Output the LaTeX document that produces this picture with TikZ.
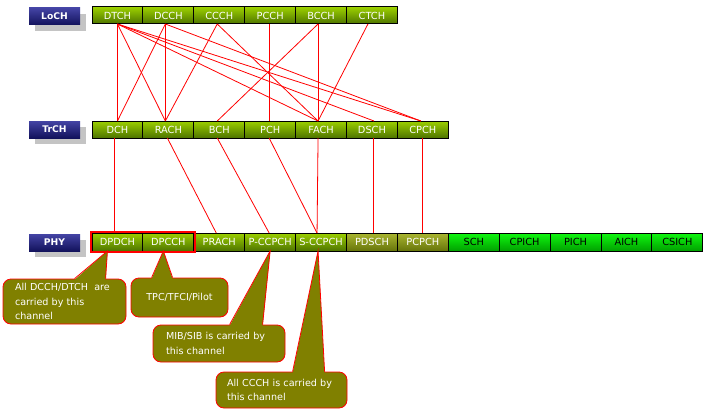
\documentclass[tikz,border=0pt]{standalone}
\usepackage{fontspec}
\setmainfont{DejaVu Sans}
\definecolor{lgTop}{HTML}{9CD000}
\definecolor{lgBot}{HTML}{4E7400}
\definecolor{olTop}{HTML}{AAB630}
\definecolor{olBot}{HTML}{66740A}
\definecolor{grTop}{HTML}{10F810}
\definecolor{grBot}{HTML}{00A000}
\definecolor{nvTop}{HTML}{4444A4}
\definecolor{nvBot}{HTML}{12125C}
\definecolor{shadowgray}{HTML}{C4C4C4}
\definecolor{calloutfill}{HTML}{808000}
\definecolor{linkred}{HTML}{FF0000}
\begin{document}
\begin{tikzpicture}[x=1pt,y=-1pt,
  cell/.style={draw=black, line width=1pt, minimum width=50.9pt, minimum height=17pt,
    inner sep=0pt, outer sep=0pt, font=\fontsize{9.8}{11}\selectfont, text=white,
    top color=lgTop, bottom color=lgBot},
  olcell/.style={cell, top color=olTop, bottom color=olBot},
  grcell/.style={cell, top color=grTop, bottom color=grBot, text=black},
  tagbox/.style={minimum width=51pt, minimum height=17pt, inner sep=0pt,
    top color=nvTop, bottom color=nvBot, text=white, font=\fontsize{9.2}{10}\selectfont\bfseries},
  greybox/.style={minimum width=51pt, minimum height=17pt, inner sep=0pt, fill=shadowgray},
  link/.style={draw=linkred, line width=0.8pt},
  callout/.style={draw=linkred, line width=0.8pt, fill=calloutfill, rounded corners=8pt,
    text=white, inner sep=0pt, font=\fontsize{9.6}{14.5}\selectfont},
  pointer/.style={draw=linkred, line width=0.8pt}
]
\useasboundingbox (0,0) rectangle (708,412);
\fill[white] (0,0) rectangle (708,412);

% layer tags
\node[greybox] (lochsh) at (60.5,22.5) {};
\node[tagbox] (loch) at (54.5,16.5) {LoCH};
\node[greybox] (trchsh) at (60.5,135.5) {};
\node[tagbox] (trch) at (54.5,129.5) {TrCH};
\node[greybox] (physh) at (60.5,248.5) {};
\node[tagbox] (phy) at (54.5,242.5) {PHY};

% logical channels
\foreach \n/\t [count=\i from 0] in {dtch/DTCH, dcch/DCCH, ccch/CCCH, pcch/PCCH, bcch/BCCH, ctch/CTCH}
  \node[cell] (\n) at (117.45+50.9*\i, 15.5) {\t};
% transport channels
\foreach \n/\t [count=\i from 0] in {dch/DCH, rach/RACH, bch/BCH, pch/PCH, fach/FACH, dsch/DSCH, cpch/CPCH}
  \node[cell] (\n) at (117.45+50.9*\i, 129.5) {\t};
% physical channels
\foreach \n/\t [count=\i from 0] in {dpdch/DPDCH, dpcch/DPCCH, prach/PRACH, pccpch/P-CCPCH, sccpch/S-CCPCH}
  \node[cell, minimum height=18pt] (\n) at (117.45+50.9*\i, 242) {\t};
\foreach \n/\t [count=\i from 5] in {pdsch/PDSCH, pcpch/PCPCH}
  \node[olcell, minimum height=18pt] (\n) at (117.45+50.9*\i, 242) {\t};
\foreach \n/\t [count=\i from 7] in {sch/SCH, cpich/CPICH, pich/PICH, aich/AICH, csich/CSICH}
  \node[grcell, minimum height=18pt] (\n) at (117.45+50.9*\i, 242) {\t};

% attachment points
\coordinate (dtchs) at (dtch.south);
\coordinate (dcchs) at ([xshift=-3pt]dcch.south);
\coordinate (ccchs) at ([xshift=-2pt]ccch.south);
\coordinate (pcchs) at ([xshift=-1pt]pcch.south);
\coordinate (bcchs) at ([xshift=-3pt]bcch.south);
\coordinate (ctchs) at ([xshift=-4pt]ctch.south);
\coordinate (dchn) at (dch.north);
\coordinate (rachn) at ([xshift=-3pt]rach.north);
\coordinate (bchn) at ([xshift=-2pt]bch.north);
\coordinate (pchn) at ([xshift=-1pt]pch.north);
\coordinate (fachn) at ([xshift=-3pt]fach.north);
\coordinate (dschn) at ([xshift=2pt]dsch.north);
\coordinate (cpchn) at ([xshift=-2pt]cpch.north);
\coordinate (dchs) at ([xshift=-3pt]dch.south);
\coordinate (rachs) at ([xshift=-1pt]rach.south);
\coordinate (bchs) at ([xshift=-2pt]bch.south);
\coordinate (pchs) at ([xshift=-1pt]pch.south);
\coordinate (fachs) at ([xshift=-3pt]fach.south);
\coordinate (dschs) at ([xshift=1pt]dsch.south);
\coordinate (cpchs) at (cpch.south);
\coordinate (dpdchn) at ([xshift=-3pt]dpdch.north);
\coordinate (prachn) at ([xshift=-3pt]prach.north);
\coordinate (pccpchn) at ([xshift=-1pt]pccpch.north);
\coordinate (sccpchn) at ([xshift=-4pt]sccpch.north);
\coordinate (pdschn) at ([xshift=1pt]pdsch.north);
\coordinate (pcpchn) at (pcpch.north);

% logical -> transport
\draw[link] (dtchs) -- (dchn);
\draw[link] (dtchs) -- (rachn);
\draw[link] (dtchs) -- (fachn);
\draw[link] (dtchs) -- (dschn);
\draw[link] (dtchs) -- (cpchn);
\draw[link] (dcchs) -- (dchn);
\draw[link] (dcchs) -- (rachn);
\draw[link] (dcchs) -- (cpchn);
\draw[link] (ccchs) -- (rachn);
\draw[link] (ccchs) -- (fachn);
\draw[link] (pcchs) -- (pchn);
\draw[link] (bcchs) -- (bchn);
\draw[link] (bcchs) -- (fachn);
\draw[link] (ctchs) -- (fachn);

% transport -> physical
\draw[link] (dchs) -- (dpdchn);
\draw[link] (rachs) -- (prachn);
\draw[link] (bchs) -- (pccpchn);
\draw[link] (pchs) -- (sccpchn);
\draw[link] (fachs) -- (sccpchn);
\draw[link] (dschs) -- (pdschn);
\draw[link] (cpchs) -- (pcpchn);

% highlight of dedicated physical channels
\draw[draw=linkred, line width=1.6pt] ([shift={(-1,-1)}]dpdch.north west) rectangle ([shift={(1,1)}]dpcch.south east);

% callouts
\node[callout, minimum width=123pt, minimum height=45pt, text width=99pt, align=left] (c1) at (64.5,301.5)
  {All DCCH/DTCH\ \ are\\carried by this\\channel};
\node[callout, minimum width=97pt, minimum height=39pt] (c2) at (179.5,297.5) {TPC/TFCI/Pilot};
\node[callout, minimum width=132pt, minimum height=37pt, text width=106pt, align=left] (c3) at (219,343.5)
  {MIB/SIB is carried by\\this channel};
\node[callout, minimum width=131pt, minimum height=36pt, text width=109pt, align=left] (c4) at (281.5,390)
  {All CCCH is carried by\\this channel};

\coordinate (t1) at ([xshift=-10pt]dpdch.south);
\coordinate (t2) at ([xshift=-5pt]dpcch.south);
\coordinate (t3) at (pccpch.south);
\coordinate (t4) at ([xshift=-3pt]sccpch.south);

\fill[calloutfill] ([xshift=72pt,yshift=-1.2pt]c1.north west) -- (t1) -- ([xshift=103pt,yshift=-1.2pt]c1.north west) -- cycle;
\draw[pointer] ([xshift=72pt]c1.north west) -- (t1) -- ([xshift=103pt]c1.north west);
\fill[calloutfill] ([xshift=21pt,yshift=-1.2pt]c2.north west) -- (t2) -- ([xshift=42pt,yshift=-1.2pt]c2.north west) -- cycle;
\draw[pointer] ([xshift=21pt]c2.north west) -- (t2) -- ([xshift=42pt]c2.north west);
\fill[calloutfill] ([xshift=77pt,yshift=-1.2pt]c3.north west) -- (t3) -- ([xshift=110pt,yshift=-1.2pt]c3.north west) -- cycle;
\draw[pointer] ([xshift=77pt]c3.north west) -- (t3) -- ([xshift=110pt]c3.north west);
\fill[calloutfill] ([xshift=77pt,yshift=-1.2pt]c4.north west) -- (t4) -- ([xshift=109pt,yshift=-1.2pt]c4.north west) -- cycle;
\draw[pointer] ([xshift=77pt]c4.north west) -- (t4) -- ([xshift=109pt]c4.north west);
\end{tikzpicture}
\end{document}
